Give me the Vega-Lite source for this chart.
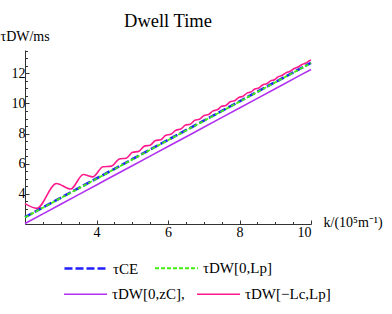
{
  "$schema": "https://vega.github.io/schema/vega-lite/v6.json",
  "autosize": "none",
  "width": 286,
  "height": 174,
  "padding": {"left": 25, "top": 50, "right": 81, "bottom": 90},
  "background": "white",
  "title": {"text": "Dwell Time", "font": "Liberation Serif", "fontSize": 18.5, "fontWeight": "normal", "color": "black", "anchor": "middle", "baseline": "bottom", "offset": 5, "dy": 25},
  "data": {"values": [
    {"k": 2, "v": 2.46, "s": "τCE"}, {"k": 3, "v": 3.74, "s": "τCE"}, {"k": 4, "v": 5.02, "s": "τCE"}, {"k": 5, "v": 6.30, "s": "τCE"}, {"k": 6, "v": 7.58, "s": "τCE"}, {"k": 7, "v": 8.86, "s": "τCE"}, {"k": 8, "v": 10.14, "s": "τCE"}, {"k": 9, "v": 11.42, "s": "τCE"}, {"k": 10, "v": 12.70, "s": "τCE"},
    {"k": 2, "v": 2.44, "s": "τDW[0,Lp]"}, {"k": 3, "v": 3.72, "s": "τDW[0,Lp]"}, {"k": 4, "v": 5.00, "s": "τDW[0,Lp]"}, {"k": 5, "v": 6.28, "s": "τDW[0,Lp]"}, {"k": 6, "v": 7.56, "s": "τDW[0,Lp]"}, {"k": 7, "v": 8.84, "s": "τDW[0,Lp]"}, {"k": 8, "v": 10.12, "s": "τDW[0,Lp]"}, {"k": 9, "v": 11.40, "s": "τDW[0,Lp]"}, {"k": 10, "v": 12.68, "s": "τDW[0,Lp]"},
    {"k": 2, "v": 2.03, "s": "τDW[0,zC],"}, {"k": 3, "v": 3.31, "s": "τDW[0,zC],"}, {"k": 4, "v": 4.59, "s": "τDW[0,zC],"}, {"k": 5, "v": 5.87, "s": "τDW[0,zC],"}, {"k": 6, "v": 7.14, "s": "τDW[0,zC],"}, {"k": 7, "v": 8.42, "s": "τDW[0,zC],"}, {"k": 8, "v": 9.70, "s": "τDW[0,zC],"}, {"k": 9, "v": 10.98, "s": "τDW[0,zC],"}, {"k": 10, "v": 12.26, "s": "τDW[0,zC],"},
    {"k": 2.00, "v": 3.35, "s": "τDW[−Lc,Lp]"}, {"k": 2.33, "v": 3.04, "s": "τDW[−Lc,Lp]"}, {"k": 2.88, "v": 4.69, "s": "τDW[−Lc,Lp]"}, {"k": 3.28, "v": 4.32, "s": "τDW[−Lc,Lp]"}, {"k": 3.63, "v": 5.29, "s": "τDW[−Lc,Lp]"}, {"k": 3.90, "v": 5.13, "s": "τDW[−Lc,Lp]"}, {"k": 4.18, "v": 5.80, "s": "τDW[−Lc,Lp]"}, {"k": 4.42, "v": 5.84, "s": "τDW[−Lc,Lp]"}, {"k": 4.64, "v": 6.32, "s": "τDW[−Lc,Lp]"}, {"k": 4.83, "v": 6.37, "s": "τDW[−Lc,Lp]"}, {"k": 5.01, "v": 6.76, "s": "τDW[−Lc,Lp]"}, {"k": 5.18, "v": 6.82, "s": "τDW[−Lc,Lp]"}, {"k": 5.34, "v": 7.17, "s": "τDW[−Lc,Lp]"}, {"k": 5.50, "v": 7.23, "s": "τDW[−Lc,Lp]"}, {"k": 5.65, "v": 7.54, "s": "τDW[−Lc,Lp]"}, {"k": 5.80, "v": 7.60, "s": "τDW[−Lc,Lp]"}, {"k": 5.94, "v": 7.89, "s": "τDW[−Lc,Lp]"}, {"k": 6.08, "v": 7.95, "s": "τDW[−Lc,Lp]"}, {"k": 6.22, "v": 8.23, "s": "τDW[−Lc,Lp]"}, {"k": 6.36, "v": 8.30, "s": "τDW[−Lc,Lp]"}, {"k": 6.49, "v": 8.57, "s": "τDW[−Lc,Lp]"}, {"k": 6.62, "v": 8.62, "s": "τDW[−Lc,Lp]"}, {"k": 6.75, "v": 8.88, "s": "τDW[−Lc,Lp]"}, {"k": 6.88, "v": 8.95, "s": "τDW[−Lc,Lp]"}, {"k": 7.01, "v": 9.20, "s": "τDW[−Lc,Lp]"}, {"k": 7.14, "v": 9.27, "s": "τDW[−Lc,Lp]"}, {"k": 7.26, "v": 9.51, "s": "τDW[−Lc,Lp]"}, {"k": 7.38, "v": 9.58, "s": "τDW[−Lc,Lp]"}, {"k": 7.50, "v": 9.81, "s": "τDW[−Lc,Lp]"}, {"k": 7.62, "v": 9.87, "s": "τDW[−Lc,Lp]"}, {"k": 7.74, "v": 10.11, "s": "τDW[−Lc,Lp]"}, {"k": 7.86, "v": 10.18, "s": "τDW[−Lc,Lp]"}, {"k": 7.98, "v": 10.40, "s": "τDW[−Lc,Lp]"}, {"k": 8.10, "v": 10.48, "s": "τDW[−Lc,Lp]"}, {"k": 8.21, "v": 10.69, "s": "τDW[−Lc,Lp]"}, {"k": 8.32, "v": 10.76, "s": "τDW[−Lc,Lp]"}, {"k": 8.43, "v": 10.96, "s": "τDW[−Lc,Lp]"}, {"k": 8.54, "v": 11.03, "s": "τDW[−Lc,Lp]"}, {"k": 8.65, "v": 11.23, "s": "τDW[−Lc,Lp]"}, {"k": 8.76, "v": 11.31, "s": "τDW[−Lc,Lp]"}, {"k": 8.87, "v": 11.50, "s": "τDW[−Lc,Lp]"}, {"k": 8.98, "v": 11.58, "s": "τDW[−Lc,Lp]"}, {"k": 9.09, "v": 11.78, "s": "τDW[−Lc,Lp]"}, {"k": 9.20, "v": 11.87, "s": "τDW[−Lc,Lp]"}, {"k": 9.31, "v": 12.05, "s": "τDW[−Lc,Lp]"}, {"k": 9.42, "v": 12.14, "s": "τDW[−Lc,Lp]"}, {"k": 9.53, "v": 12.32, "s": "τDW[−Lc,Lp]"}, {"k": 9.64, "v": 12.42, "s": "τDW[−Lc,Lp]"}, {"k": 9.75, "v": 12.59, "s": "τDW[−Lc,Lp]"}, {"k": 9.86, "v": 12.69, "s": "τDW[−Lc,Lp]"}, {"k": 9.97, "v": 12.86, "s": "τDW[−Lc,Lp]"}, {"k": 10.00, "v": 12.88, "s": "τDW[−Lc,Lp]"}
  ]},
  "encoding": {
    "x": {"field": "k", "type": "quantitative", "scale": {"domain": [2, 10], "nice": false, "zero": false},
      "axis": {"title": "k/(10⁵m⁻¹)", "values": [2.5, 3, 3.5, 4, 4.5, 5, 5.5, 6, 6.5, 7, 7.5, 8, 8.5, 9, 9.5, 10], "labelExpr": "datum.value % 2 === 0 ? format(datum.value, 'd') : ''", "tickSize": {"condition": {"test": "datum.value % 2 === 0", "value": -4}, "value": -2.5}, "labelPadding": 5, "grid": false, "titleX": 298, "titleY": -2, "titleAlign": "left", "titleBaseline": "middle", "titleAngle": 0}},
    "y": {"field": "v", "type": "quantitative", "scale": {"domain": [2, 13.55], "nice": false, "zero": false},
      "axis": {"title": "τDW/ms", "values": [2.5, 3, 3.5, 4, 4.5, 5, 5.5, 6, 6.5, 7, 7.5, 8, 8.5, 9, 9.5, 10, 10.5, 11, 11.5, 12, 12.5, 13, 13.5], "labelExpr": "datum.value % 2 === 0 ? format(datum.value, 'd') : ''", "tickSize": {"condition": {"test": "datum.value % 2 === 0", "value": -4}, "value": -2.5}, "labelPadding": 4, "grid": false, "titleX": -25, "titleY": -10, "titleAlign": "left", "titleBaseline": "alphabetic", "titleAngle": 0}}
  },
  "layer": [
    {
      "transform": [{"filter": {"field": "s", "oneOf": ["τDW[0,zC],", "τDW[−Lc,Lp]"]}}],
      "mark": {"type": "line", "interpolate": "monotone", "strokeWidth": 1.6},
      "encoding": {
        "stroke": {"field": "s", "type": "nominal", "scale": {"domain": ["τDW[0,zC],", "τDW[−Lc,Lp]"], "range": ["#b030f0", "#ff1a8c"]},
          "legend": {"orient": "none", "legendX": 38, "legendY": 221.5, "direction": "horizontal", "title": null, "symbolStrokeWidth": 1.6, "columnPadding": 8}}
      }
    },
    {
      "transform": [{"filter": {"field": "s", "oneOf": ["τCE", "τDW[0,Lp]"]}}],
      "mark": {"type": "line"},
      "encoding": {
        "color": {"field": "s", "type": "nominal", "scale": {"domain": ["τCE", "τDW[0,Lp]"], "range": ["#1f1fff", "#40ee10"]},
          "legend": {"orient": "none", "legendX": 38, "legendY": 195.5, "direction": "horizontal", "title": null}},
        "strokeDash": {"field": "s", "type": "nominal", "scale": {"domain": ["τCE", "τDW[0,Lp]"], "range": [[8, 3], [4, 2]]},
          "legend": {"orient": "none", "legendX": 38, "legendY": 195.5, "direction": "horizontal", "title": null}},
        "strokeWidth": {"field": "s", "type": "nominal", "scale": {"domain": ["τCE", "τDW[0,Lp]"], "range": [2.6, 1.8]},
          "legend": {"orient": "none", "legendX": 38, "legendY": 195.5, "direction": "horizontal", "title": null}}
      }
    }
  ],
  "config": {
    "view": {"stroke": null},
    "axis": {"labelFont": "Liberation Serif", "labelFontSize": 14, "labelColor": "black", "titleFont": "Liberation Serif", "titleFontSize": 14, "titleFontWeight": "normal", "titleColor": "black", "domainColor": "#333", "tickColor": "#333", "domainWidth": 1, "tickWidth": 1},
    "legend": {"labelFont": "Liberation Serif", "labelFontSize": 15, "labelColor": "black", "symbolType": "stroke", "symbolSize": 1850, "labelOffset": 4, "columnPadding": 12, "padding": 0, "labelLimit": 200}
  }
}
